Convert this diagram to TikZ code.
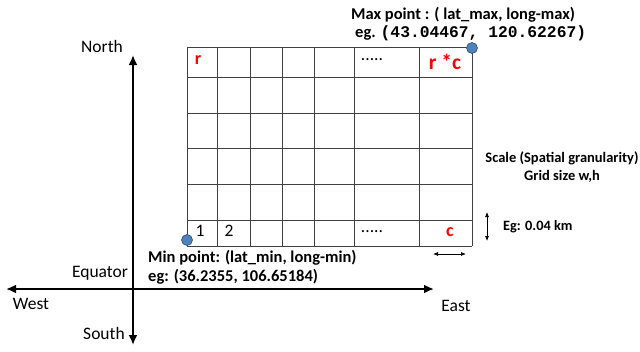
\documentclass[tikz,border=0pt]{standalone}
\usepackage{fontspec}
\setmainfont{Carlito}
\setmonofont{Liberation Mono}
\usetikzlibrary{arrows.meta}
\definecolor{ptblue}{HTML}{4F81BD}
\definecolor{ptred}{HTML}{FF0000}
\begin{document}
\begin{tikzpicture}[x=1pt,y=-1pt,
  gridline/.style={draw=black!75,line width=0.9pt},
  axis/.style={line width=2.4pt,{Latex[length=10pt,width=9pt]}-{Latex[length=10pt,width=9pt]}},
  dim/.style={line width=0.7pt,{Latex[length=5pt,width=4pt]}-{Latex[length=5pt,width=4pt]}},
  lbl/.style={font=\fontsize{17.5}{20}\selectfont,inner sep=0pt},
  bl/.style={font=\bfseries\fontsize{16.5}{19}\selectfont,inner sep=0pt},
  redl/.style={text=ptred,font=\bfseries\fontsize{18}{20}\selectfont,inner sep=0pt},
  pt/.style={circle,fill=ptblue,draw=ptblue!60!black,line width=0.6pt,minimum size=11pt,inner sep=0pt}]
\useasboundingbox (0,0) rectangle (640,351);
% grid
\foreach \x in {187,217,250,282,314,354,419,472} \draw[gridline] (\x,47) -- (\x,246);
\foreach \y in {47,77,113,148,184,220,246} \draw[gridline] (187,\y) -- (472,\y);
% axes
\coordinate (ntop) at (133,55);
\coordinate (sbot) at (133,345);
\coordinate (wl) at (6,289);
\coordinate (er) at (434,289);
\draw[axis] (ntop) -- (sbot);
\draw[axis] (wl) -- (er);
% axis labels
\node[lbl] (north) at (102,46) {North};
\node[lbl] (south) at (104,333) {South};
\node[lbl] (west) at (31,304) {West};
\node[lbl] (east) at (456,306) {East};
\node[lbl] (equator) at (100,273) {Equator};
% cell labels
\node[redl] (r) at (198,60) {r};
\node[redl,font=\bfseries\fontsize{21.5}{24}\selectfont] (rc) at (445,62) {r *c};
\node[lbl] (dots1) at (372,60) {.....};
\node[lbl] (one) at (200,231) {1};
\node[lbl] (two) at (229,231) {2};
\node[lbl] (dots2) at (372,232) {.....};
\node[redl] (c) at (450,232) {c};
% points
\node[pt] (maxp) at (472,48) {};
\node[pt] (minp) at (187,240) {};
% texts
\node[bl,anchor=west] (maxt) at (351,15) {Max point : ( lat\_max, long-max)};
\node[bl,anchor=west] (maxe) at (355,33) {eg. {\ttfamily\fontsize{16.3}{19}\selectfont(43.04467, 120.62267)}};
\node[bl,anchor=west] (mint) at (148,258) {Min point: (lat\_min, long-min)};
\node[bl,anchor=west] (mine) at (148,277) {eg: (36.2355, 106.65184)};
\node[bl,align=center,font=\bfseries\fontsize{14.5}{18}\selectfont] (scale) at (562,167) {Scale (Spatial granularity)\\Grid size w,h};
\node[bl,anchor=west,font=\bfseries\fontsize{14.3}{16}\selectfont] (egkm) at (503,227) {Eg: 0.04 km};
% dimension arrows
\coordinate (vt) at (487,212);
\coordinate (vb) at (487,241);
\draw[dim] (vt) -- (vb);
\coordinate (hl) at (433,254);
\coordinate (hr) at (466,254);
\draw[dim] (hl) -- (hr);
\end{tikzpicture}
\end{document}
